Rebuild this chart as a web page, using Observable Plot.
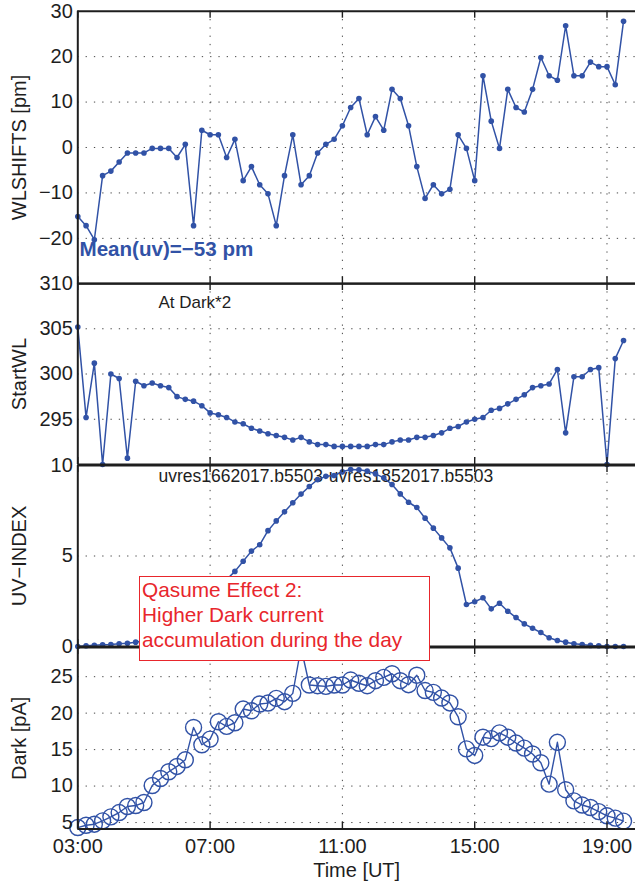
<!DOCTYPE html>
<html><head><meta charset="utf-8">
<script src="https://cdn.jsdelivr.net/npm/d3@7"></script>
<script src="https://cdn.jsdelivr.net/npm/@observablehq/plot@0.6"></script>
<style>
html,body{margin:0;padding:0;background:#fff;overflow:hidden}
#wrap{position:relative;width:635px;height:884px;font-family:"Liberation Sans",Arial,Helvetica,sans-serif}
.panel{position:absolute;left:0}
#note{position:absolute;left:139px;top:576px;width:287px;height:83px;border:1.5px solid #e8262c;background:#fff;color:#e8262c;font-size:20.8px;line-height:25px;padding:0 0 0 2px;white-space:nowrap}
</style></head>
<body><div id="wrap"></div>
<script>
// ---- data ----
const times = ["03:00","03:15","03:30","03:45","04:00","04:15","04:30","04:45","05:00","05:15","05:30","05:45","06:00","06:15","06:30","06:45","07:00","07:15","07:30","07:45","08:00","08:15","08:30","08:45","09:00","09:15","09:30","09:45","10:00","10:15","10:30","10:45","11:00","11:15","11:30","11:45","12:00","12:15","12:30","12:45","13:00","13:15","13:30","13:45","14:00","14:15","14:30","14:45","15:00","15:15","15:30","15:45","16:00","16:15","16:30","16:45","17:00","17:15","17:30","17:45","18:00","18:15","18:30","18:45","19:00","19:15","19:30"];
const wlShifts = [-15.2,-17.2,-20.3,-6.2,-5.2,-3.2,-1.2,-1.2,-1.2,-0.2,
  -0.2,-0.2,-2.2,0.7,-17.2,3.8,2.8,2.8,-2.2,1.8,
  -7.3,-4.2,-8.2,-10.2,-17.2,-6.2,2.8,-8.2,-6.2,-1.2,
  0.7,1.8,4.8,8.8,10.8,2.8,6.8,3.8,12.8,10.8,
  4.8,-4.2,-11.2,-8.2,-10.2,-9.2,2.8,-0.2,-7.3,15.8,
  5.8,-0.2,12.8,8.8,7.8,12.8,19.8,15.8,14.8,26.8,
  15.8,15.8,18.8,17.8,17.8,13.8,27.8];
const startWL = [305.2,295.2,301.2,290.0,300.0,299.5,290.7,299.2,298.7,299.0,
  298.7,298.5,297.5,297.2,297.0,296.5,295.7,295.5,295.2,294.7,
  294.5,294.0,293.7,293.4,293.2,293.0,292.7,293.0,292.5,292.2,
  292.2,292.0,292.0,292.0,292.0,292.0,292.2,292.2,292.5,292.7,
  292.7,293.0,293.0,293.2,293.5,294.0,294.2,294.7,295.0,295.2,
  296.0,296.2,296.7,297.2,297.7,298.5,298.7,298.9,300.5,293.5,
  299.7,299.7,300.5,300.7,290.0,301.7,303.7];
const uvIndex = [0,0.04,0.07,0.1,0.11,0.15,0.18,0.24,0.32,0.45,
  0.62,0.85,1.15,1.5,1.9,2.35,2.8,3.25,3.7,4.15,
  4.71,5.27,5.62,6.4,6.94,7.44,7.94,8.42,8.84,9.22,
  9.4,9.45,9.65,9.78,9.76,9.69,9.54,9.32,8.95,8.43,
  7.97,7.68,7.09,6.54,6.0,5.45,4.33,2.32,2.47,2.69,
  2.08,2.39,1.95,1.6,1.25,1.01,0.77,0.48,0.33,0.24,
  0.15,0.11,0.06,0.04,0.0,0.0,0.0];
const darkCurrent = [4.31,4.63,4.77,5.23,5.78,6.37,7.2,7.33,7.75,10.08,
  11.04,11.96,12.69,13.6,18.04,15.66,16.44,18.82,18.18,18.68,
  20.56,20.33,21.25,21.38,22.03,21.57,22.71,29.0,23.86,23.76,
  23.67,23.86,23.86,24.54,24.1,23.76,24.45,24.9,25.4,24.45,
  23.9,25.2,23.1,22.85,22.07,21.4,19.5,15.1,14.2,16.7,
  16.5,17.3,16.7,15.9,15.2,14.4,13.2,10.26,16.0,9.5,
  7.97,7.4,7.06,6.5,5.92,5.6,5.2];
const xTickLabels = ["03:00","07:00","11:00","15:00","19:00"];
const wlTicks = [-20,-10,0,10,20,30];
const swTicks = [295,300,305,310];
const uvTicks = [0,5,10];
const darkTicks = [5,10,15,20,25];
const noteLines = ["Qasume Effect 2:","Higher Dark current","accumulation during the day"];

// ---- helpers ----
const toHours = t => { const [h, m] = t.split(":").map(Number); return h + m / 60; };
const hours = times.map(toHours);
const xTicks = xTickLabels.map(toHours);
const rows = times.map((t, i) => ({h: hours[i], wl: wlShifts[i], sw: startWL[i], uv: uvIndex[i], dark: darkCurrent[i]}));

const FONT = '"Liberation Sans", Arial, Helvetica, sans-serif';
const BLUE = "#3152a6";
const INK = "#1e1e1e";
const W = 635, LEFT = 77.3, PXH = 33.075;
const xMax = 3 + (W - LEFT) / PXH;
const gridStyle = {stroke: "#333", strokeOpacity: 0.9, strokeWidth: 1, strokeDasharray: "1.3,7"};
const wrap = document.getElementById("wrap");

function panel({top, plotH, mTop, mBottom, yDomain, yTicks, yGrid, label, marks, xAxis = false}) {
  const tl = 7 * (yDomain[1] - yDomain[0]) / plotH;
  const chart = Plot.plot({
    width: W, height: mTop + plotH + mBottom,
    marginLeft: LEFT, marginRight: 0, marginTop: mTop, marginBottom: mBottom,
    style: {fontFamily: FONT, fontSize: "20px", background: "transparent", overflow: "visible", color: INK},
    x: {domain: [3, xMax], axis: null},
    y: {domain: yDomain, axis: null},
    marks: [
      Plot.gridX(xTicks.slice(1), gridStyle),
      Plot.gridY(yGrid, gridStyle),
      ...marks,
      Plot.ruleY(yDomain, {stroke: INK, strokeWidth: 2}),
      Plot.ruleX([3], {stroke: INK, strokeWidth: 2}),
      Plot.ruleX(xTicks, {y1: yDomain[1], y2: yDomain[1] - tl, stroke: INK, strokeWidth: 1.4}),
      Plot.ruleX(xTicks, {y1: yDomain[0], y2: yDomain[0] + tl, stroke: INK, strokeWidth: 1.4}),
      Plot.axisY(yTicks, {anchor: "left", tickSize: 0, tickPadding: 5, fontSize: 20, fill: INK,
        label, labelAnchor: "center", labelOffset: 66, labelArrow: "none"}),
      ...(xAxis ? [Plot.axisX(xTicks, {anchor: "bottom", tickSize: 0, tickPadding: 10, fontSize: 20, fill: INK,
        tickFormat: (d, i) => xTickLabels[i], label: "Time [UT]", labelAnchor: "center", labelOffset: 48, labelArrow: "none"})] : [])
    ]
  });
  const div = document.createElement("div");
  div.className = "panel";
  div.style.top = (top - mTop) + "px";
  div.appendChild(chart);
  wrap.appendChild(div);
}

// Panel 1: WLSHIFTS
panel({top: 10.7, plotH: 272.6, mTop: 10.7, mBottom: 2, yDomain: [-30, 30], yTicks: wlTicks,
  yGrid: [-20, -10, 0, 10, 20], label: "WLSHIFTS [pm]",
  marks: [
    Plot.line(rows, {x: "h", y: "wl", stroke: BLUE, strokeWidth: 1.5}),
    Plot.dot(rows, {x: "h", y: "wl", r: 2.8, fill: BLUE}),
    Plot.text(["Mean(uv)=\u221253 pm"], {text: d => d, frameAnchor: "bottom-left", textAnchor: "start", lineAnchor: "bottom",
      dx: 1.7, dy: -27.3, fontSize: 20.6, fontWeight: "bold", fill: BLUE})
  ]});

// Panel 2: StartWL
panel({top: 283.3, plotH: 181, mTop: 12, mBottom: 2, yDomain: [290, 310], yTicks: swTicks,
  yGrid: [295, 300, 305], label: "StartWL",
  marks: [
    Plot.text(["At Dark*2"], {text: d => d, frameAnchor: "top-left", textAnchor: "middle", lineAnchor: "bottom",
      dx: 117, dy: 24.7, fontSize: 17, fill: INK}),
    Plot.line(rows, {x: "h", y: "sw", stroke: BLUE, strokeWidth: 1.5}),
    Plot.dot(rows, {x: "h", y: "sw", r: 2.8, fill: BLUE})
  ]});

// Panel 3: UV-INDEX
panel({top: 465, plotH: 181, mTop: 12, mBottom: 2, yDomain: [0, 10], yTicks: uvTicks,
  yGrid: [5], label: "UV\u2212INDEX",
  marks: [
    Plot.text(["uvres1662017.b5503-uvres1852017.b5503"], {text: d => d, frameAnchor: "top-left", textAnchor: "middle", lineAnchor: "bottom",
      dx: 248, dy: 16, fontSize: 17.5, fill: INK}),
    Plot.line(rows, {x: "h", y: "uv", stroke: BLUE, strokeWidth: 1.5}),
    Plot.dot(rows, {x: "h", y: "uv", r: 2.8, fill: BLUE})
  ]});

// Panel 4: Dark
panel({top: 646.7, plotH: 181.6, mTop: 12, mBottom: 55.7, yDomain: [4.1, 29], yTicks: darkTicks,
  yGrid: darkTicks, label: "Dark [pA]", xAxis: true,
  marks: [
    Plot.line(rows, {x: "h", y: "dark", stroke: BLUE, strokeWidth: 1.4}),
    Plot.dot(rows, {x: "h", y: "dark", r: 8, stroke: BLUE, strokeWidth: 1.4, fill: "none"})
  ]});

// Annotation box
const note = document.createElement("div");
note.id = "note";
note.innerHTML = noteLines.join("<br>");
wrap.appendChild(note);
</script>
</body></html>
